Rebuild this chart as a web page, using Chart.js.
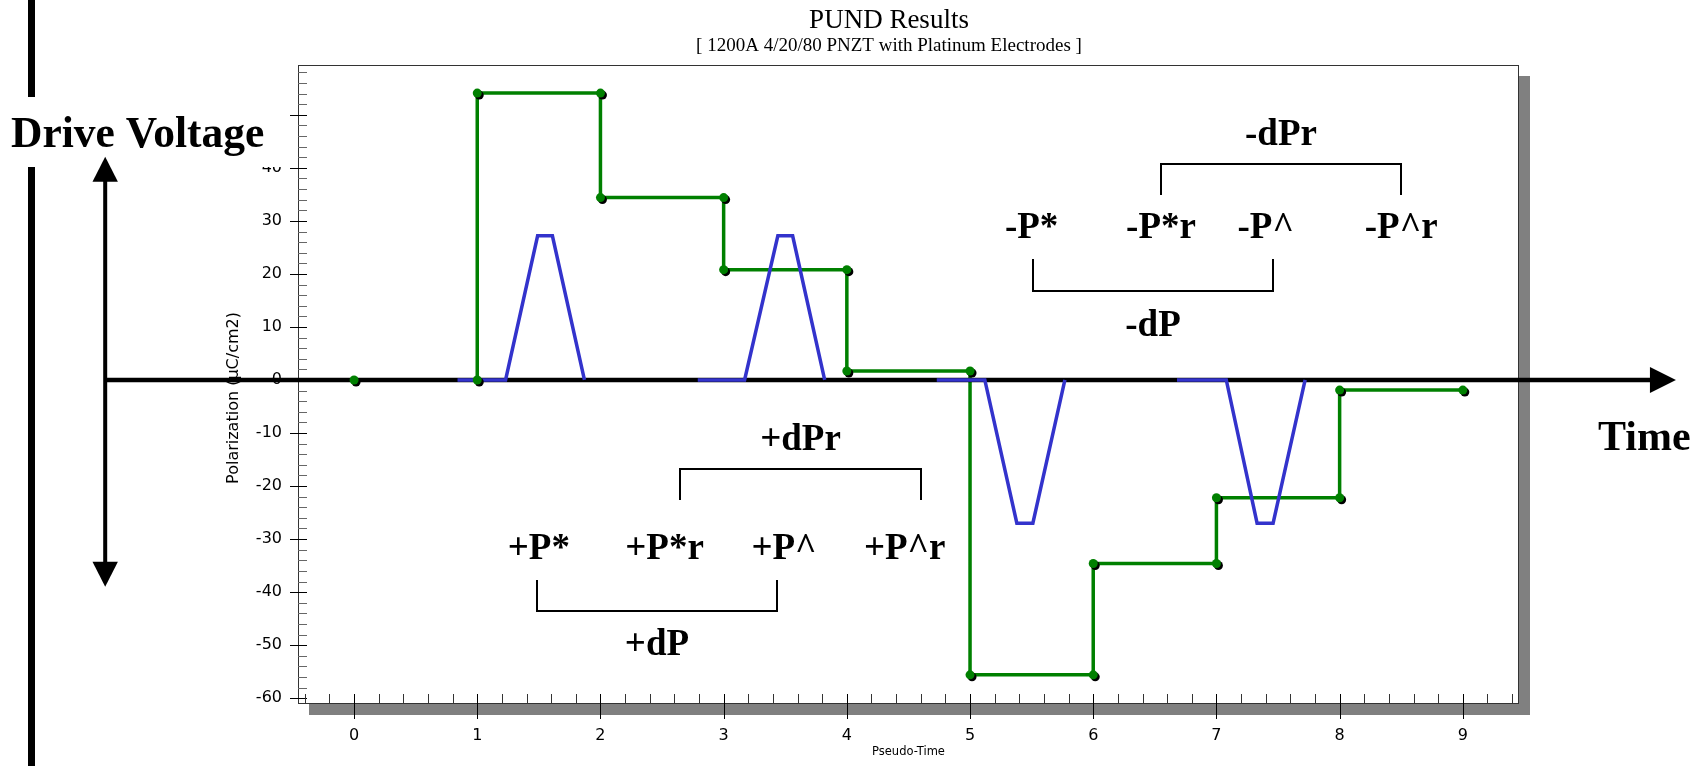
<!DOCTYPE html>
<html>
<head>
<meta charset="utf-8">
<title>PUND Results</title>
<script src="https://cdn.jsdelivr.net/npm/chart.js@4/dist/chart.umd.min.js"></script>
<style>
  html, body { margin: 0; padding: 0; background: #fff; }
  #wrap { width: 1705px; height: 766px; }
</style>
</head>
<body>
<div id="wrap"><canvas id="pund" width="1705" height="766"></canvas></div>
<script>
// ---- PUND measurement: remanent polarization after each pulse ----
const pundTime = [0, 1, 1, 2, 2, 3, 3, 4, 4, 5, 5, 6, 6, 7, 7, 8, 8, 9];
const polarization = [0, 0, 54.1, 54.1, 34.4, 34.4, 20.8, 20.8, 1.7, 1.7,
                      -55.6, -55.6, -34.6, -34.6, -22.2, -22.2, -1.9, -1.9];

// ---- Drive voltage pulse train (sketch, same pseudo-time axis; null = pen up) ----
const driveTime  = [-2.01, -1.76, -1.63, -1.37, -0.98, -0.98,
                     0.84, 1.23, 1.49, 1.61, 1.87, 1.87,
                     2.79, 3.17, 3.44, 3.56, 3.82, 3.82,
                     4.73, 5.12, 5.38, 5.51, 5.77, 5.77,
                     6.68, 7.08, 7.33, 7.46, 7.72];
const driveLevel = [0, -27.1, -27.1, 0, 0, null,
                    0, 0, 27.2, 27.2, 0, null,
                    0, 0, 27.2, 27.2, 0, null,
                    0, 0, -27.0, -27.0, 0, null,
                    0, 0, -27.0, -27.0, 0];

// ---- Pulse labels and difference brackets ----
const pulseLabels = ['+P*', '+P*r', '+P^', '+P^r', '-P*', '-P*r', '-P^', '-P^r'];
const pulseLabelX = [1.50, 2.52, 3.49, 4.47, 5.50, 6.55, 7.40, 8.50];
const pulseLabelY = [-33.8, -33.8, -33.8, -33.8, 26.8, 26.8, 26.8, 26.8];

const bracketNames = ['+dPr', '+dP', '-dPr', '-dP'];
const bracketFrom  = [2.649, 1.488, 6.55, 5.511];
const bracketTo    = [4.602, 3.431, 8.50, 7.459];
const bracketBar   = [-16.7, -43.6, 40.75, 16.7];
const bracketLeg   = [-22.6, -37.7, 34.8, 22.8];
const bracketText  = [-13.2, -51.9, 44.3, 8.3];

// ---- Axis ranges ----
const xRange = [-0.455, 9.456];
const yRange = [-61.1, 59.4];

const toPoints = (xs, ys) => xs.map((x, i) => ({ x: x, y: ys[i] }));
const pundPoints = toPoints(pundTime, polarization);
const drivePoints = toPoints(driveTime, driveLevel);

const GREEN = '#008000';
const BLUE = '#3333cc';
const SERIF = '"Liberation Serif", "Times New Roman", serif';
const SANS = '"DejaVu Sans", sans-serif';

function arrowHead(ctx, tipX, tipY, dirX, dirY, len, half) {
  const bx = tipX - dirX * len, by = tipY - dirY * len;
  ctx.beginPath();
  ctx.moveTo(tipX, tipY);
  ctx.lineTo(bx - dirY * half, by + dirX * half);
  ctx.lineTo(bx + dirY * half, by - dirX * half);
  ctx.closePath();
  ctx.fill();
}

const decorations = {
  id: 'decorations',
  beforeDraw(chart) {
    const { ctx, chartArea: a } = chart;
    ctx.save();
    ctx.fillStyle = '#fff';
    ctx.fillRect(0, 0, chart.width, chart.height);
    // drop shadow of the plot panel
    ctx.fillStyle = '#808080';
    ctx.fillRect(a.left + 11, a.top + 11, a.right - a.left, a.bottom - a.top);
    ctx.fillStyle = '#fff';
    ctx.fillRect(a.left, a.top, a.right - a.left, a.bottom - a.top);
    ctx.restore();
  },
  beforeDatasetsDraw(chart) {
    const { ctx, chartArea: a } = chart;
    const xs = chart.scales.x, ys = chart.scales.y;
    ctx.save();
    // panel frame
    ctx.strokeStyle = '#333';
    ctx.lineWidth = 1;
    ctx.strokeRect(a.left + 0.5, a.top + 0.5, a.right - a.left - 1, a.bottom - a.top - 1);

    // y ticks: major every 10, minor every 2
    for (let v = -60; v <= 58; v += 2) {
      const yy = Math.round(ys.getPixelForValue(v)) + 0.5;
      const major = v % 10 === 0;
      ctx.strokeStyle = major ? '#000' : '#666';
      ctx.beginPath();
      ctx.moveTo(a.left - (major ? 8 : 0), yy);
      ctx.lineTo(a.left + 9, yy);
      ctx.stroke();
    }
    // x ticks: major every 1, minor every 0.2
    for (let k = -2; k <= 47; k++) {
      const xx = Math.round(xs.getPixelForValue(k / 5)) + 0.5;
      const major = k % 5 === 0;
      ctx.strokeStyle = major ? '#000' : '#333';
      ctx.beginPath();
      ctx.moveTo(xx, a.bottom - 10);
      ctx.lineTo(xx, a.bottom + (major ? 15 : 0));
      ctx.stroke();
    }

    // titles
    ctx.fillStyle = '#000';
    ctx.textAlign = 'center';
    ctx.textBaseline = 'alphabetic';
    ctx.font = '27px ' + SERIF;
    ctx.fillText('PUND Results', 889, 28);
    ctx.font = '19px ' + SERIF;
    ctx.fillText('[ 1200A 4/20/80 PNZT with Platinum Electrodes ]', 889, 51);

    // axis titles
    ctx.font = '11.5px ' + SANS;
    ctx.textBaseline = 'middle';
    ctx.fillText('Pseudo-Time', (a.left + a.right) / 2, 752);
    ctx.save();
    ctx.translate(234, 398);
    ctx.rotate(-Math.PI / 2);
    ctx.font = '16px ' + SANS;
    ctx.fillText('Polarization (\u00b5C/cm2)', 0, 0);
    ctx.restore();

    // left margin bar and the "Drive Voltage" caption box
    ctx.fillStyle = '#000';
    ctx.fillRect(28, 0, 7, chart.height);
    ctx.fillStyle = '#fff';
    ctx.fillRect(0, 97, 287, 70);
    ctx.fillStyle = '#000';
    ctx.textAlign = 'left';
    ctx.textBaseline = 'alphabetic';
    ctx.font = 'bold 43.5px ' + SERIF;
    ctx.fillText('Drive Voltage', 11, 147);
    ctx.font = 'bold 42px ' + SERIF;
    ctx.fillText('Time', 1598, 450);
    ctx.restore();
  },
  afterDatasetDraw(chart, args) {
    const ds = chart.data.datasets[args.index];
    const { ctx } = chart;
    const xs = chart.scales.x, ys = chart.scales.y;
    if (ds.role === 'pundLine') {
      // time axis and drive-voltage axis arrows
      ctx.save();
      ctx.strokeStyle = '#000';
      ctx.fillStyle = '#000';
      const x0 = xs.getPixelForValue(-2.02);
      const y0 = ys.getPixelForValue(0);
      const xTip = xs.getPixelForValue(10.73);
      ctx.lineWidth = 4.5;
      ctx.beginPath();
      ctx.moveTo(x0, y0);
      ctx.lineTo(xTip - 20, y0);
      ctx.stroke();
      arrowHead(ctx, xTip, y0, 1, 0, 26, 13);

      const yUp = ys.getPixelForValue(42.1);
      const yDn = ys.getPixelForValue(-39.0);
      ctx.lineWidth = 4;
      ctx.beginPath();
      ctx.moveTo(x0, yUp + 20);
      ctx.lineTo(x0, yDn - 20);
      ctx.stroke();
      arrowHead(ctx, x0, yUp, 0, -1, 25, 12.7);
      arrowHead(ctx, x0, yDn, 0, 1, 25, 12.7);
      ctx.restore();
    }
  },
  beforeDatasetDraw(chart, args) {
    const ds = chart.data.datasets[args.index];
    if (ds.role !== 'pundDots') return;
    const { ctx } = chart;
    const meta = chart.getDatasetMeta(args.index);
    ctx.save();
    ctx.fillStyle = '#000';
    meta.data.forEach(pt => {
      ctx.beginPath();
      ctx.arc(pt.x + 2, pt.y + 2, 4.5, 0, Math.PI * 2);
      ctx.fill();
    });
    ctx.restore();
  },
  afterDatasetsDraw(chart) {
    const { ctx } = chart;
    const xs = chart.scales.x, ys = chart.scales.y;
    ctx.save();
    ctx.fillStyle = '#000';
    ctx.strokeStyle = '#000';
    ctx.textAlign = 'center';
    ctx.textBaseline = 'alphabetic';
    ctx.font = 'bold 37px ' + SERIF;
    pulseLabels.forEach((t, i) => {
      ctx.fillText(t, xs.getPixelForValue(pulseLabelX[i]), ys.getPixelForValue(pulseLabelY[i]));
    });
    ctx.lineWidth = 2;
    bracketNames.forEach((t, i) => {
      const xa = Math.round(xs.getPixelForValue(bracketFrom[i]));
      const xb = Math.round(xs.getPixelForValue(bracketTo[i]));
      const yb = Math.round(ys.getPixelForValue(bracketBar[i]));
      const yl = Math.round(ys.getPixelForValue(bracketLeg[i]));
      ctx.beginPath();
      ctx.moveTo(xa, yl);
      ctx.lineTo(xa, yb);
      ctx.lineTo(xb, yb);
      ctx.lineTo(xb, yl);
      ctx.stroke();
      ctx.fillText(t, (xa + xb) / 2, ys.getPixelForValue(bracketText[i]));
    });
    ctx.restore();
  }
};

new Chart(document.getElementById('pund'), {
  type: 'scatter',
  data: {
    datasets: [
      {
        role: 'pundDots',
        data: pundPoints,
        showLine: false,
        pointRadius: 4.5,
        pointHoverRadius: 4.5,
        pointBackgroundColor: GREEN,
        pointBorderWidth: 0,
        order: 1
      },
      {
        role: 'drive',
        data: drivePoints,
        showLine: true,
        spanGaps: false,
        borderColor: BLUE,
        borderWidth: 3.5,
        pointRadius: 0,
        tension: 0,
        clip: false,
        borderJoinStyle: 'miter',
        order: 2
      },
      {
        role: 'pundLine',
        data: pundPoints,
        showLine: true,
        borderColor: GREEN,
        borderWidth: 3.5,
        pointRadius: 0,
        tension: 0,
        order: 3
      }
    ]
  },
  options: {
    responsive: false,
    animation: false,
    devicePixelRatio: 1,
    layout: { padding: { left: 0, right: 186, top: 65, bottom: 0 } },
    plugins: { legend: { display: false }, tooltip: { enabled: false } },
    events: [],
    scales: {
      x: {
        type: 'linear',
        min: xRange[0],
        max: xRange[1],
        afterFit: s => { s.height = 62; },
        grid: { display: false, drawTicks: false },
        border: { display: false },
        ticks: {
          stepSize: 1,
          includeBounds: false,
          autoSkip: false,
          maxRotation: 0,
          padding: 22,
          color: '#000',
          font: { family: SANS, size: 16 }
        }
      },
      y: {
        type: 'linear',
        min: yRange[0],
        max: yRange[1],
        afterFit: s => { s.width = 298; },
        grid: { display: false, drawTicks: false },
        border: { display: false },
        ticks: {
          stepSize: 10,
          includeBounds: false,
          autoSkip: false,
          padding: 16,
          color: '#000',
          font: { family: SANS, size: 16 }
        }
      }
    }
  },
  plugins: [decorations]
});
</script>
</body>
</html>
